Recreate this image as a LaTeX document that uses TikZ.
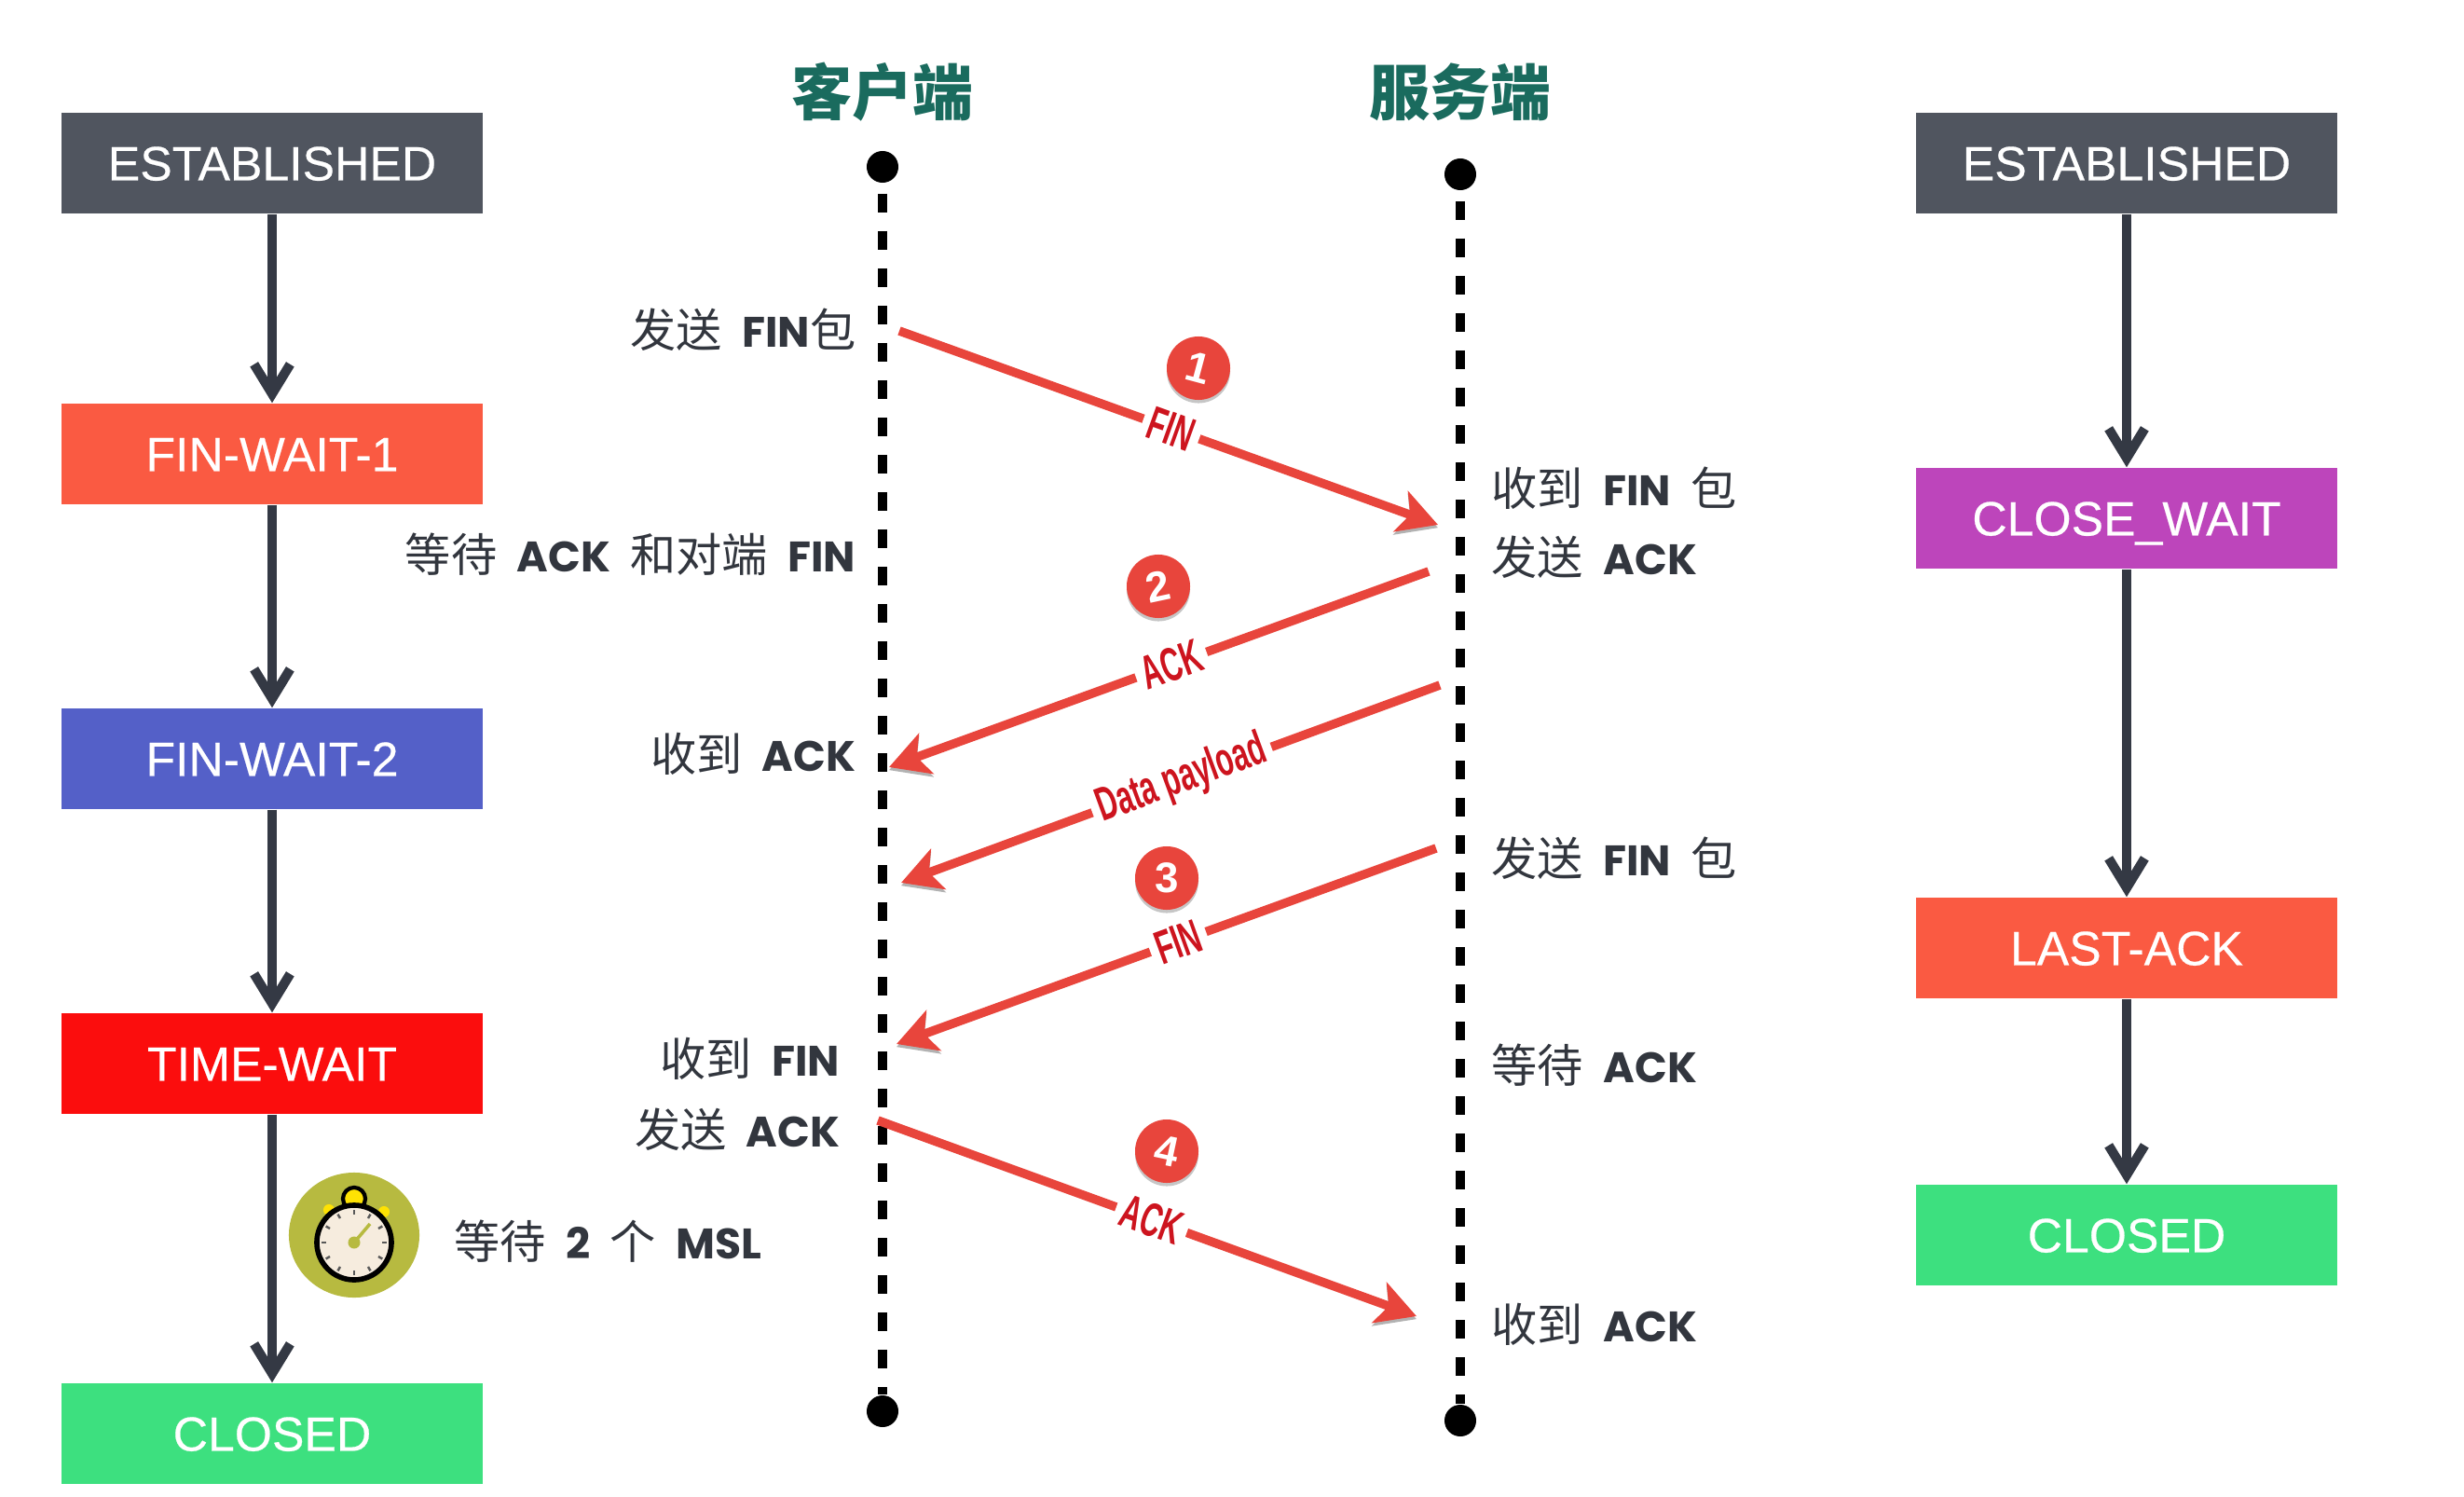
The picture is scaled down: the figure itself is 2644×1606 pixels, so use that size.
\documentclass[tikz,border=0pt]{standalone}
\usepackage{fontspec}
\setmainfont{Liberation Sans}
\newfontfamily\cjk{Noto Sans CJK SC}
\newfontfamily\rnd[WordSpace=2.2]{Poppins}
\newfontfamily\stf[FakeBold=0.4]{Liberation Sans}
\newfontfamily\narrowf[FakeStretch=0.6]{Liberation Sans}
\usetikzlibrary{positioning,arrows.meta,shadows}
\definecolor{slate}{RGB}{80,85,95}
\definecolor{ink}{RGB}{52,57,68}
\definecolor{txtc}{RGB}{50,54,62}
\definecolor{teal}{RGB}{26,107,94}
\definecolor{orng}{RGB}{250,90,66}
\definecolor{indg}{RGB}{84,96,200}
\definecolor{pure}{RGB}{251,13,13}
\definecolor{mint}{RGB}{61,224,127}
\definecolor{plum}{RGB}{189,69,187}
\definecolor{pkt}{RGB}{232,69,60}
\definecolor{pktd}{RGB}{205,20,30}
\definecolor{olive}{RGB}{183,186,64}
\definecolor{face}{RGB}{246,236,222}
\newcommand{\zh}[1]{{\cjk\mdseries\fontsize{14}{16}\selectfont #1}}
\tikzset{
  st/.style={rectangle, minimum width=4.51cm, minimum height=1.08cm, inner sep=0pt, text height=10.5pt, text depth=0pt, text=white, font=\stf\fontsize{14.7}{16}\selectfont},
  Tr/.style={-{Straight Barb[length=9pt,width=11pt,line width=2.9pt]}, ink, line width=2.9pt},
  life/.style={line width=3.1pt, dash pattern=on .2cm off .2cm, dash phase=.29cm},
  dot/.style={circle, fill=black, inner sep=0pt, minimum size=.34cm},
  Pk/.style={-{Stealth[length=12pt,width=13pt,inset=3pt]}, pkt, line width=2.7pt, preaction={draw=black, opacity=.3, transform canvas={yshift=-.9pt}}},
  pl/.style={sloped, fill=white, inner sep=2pt, text=pktd, font=\narrowf\bfseries\fontsize{14.5}{16}\selectfont},
  num/.style={circle, fill=pkt, inner sep=0pt, minimum size=.68cm, text=white, drop shadow={shadow xshift=0pt, shadow yshift=-1pt, opacity=.45}, font=\bfseries\fontsize{13}{15}\selectfont},
  hd/.style={text=teal, font=\cjk\bfseries\fontsize{18.5}{20}\selectfont},
  lbl/.style={inner sep=0pt, text=txtc, font=\rnd\bfseries\fontsize{13}{15}\selectfont}
}
\begin{document}
\begin{tikzpicture}[x=0.01cm, y=-0.01cm]
  \useasboundingbox (0,0) rectangle (2644,1606);
  % client states
  \node[st, fill=slate] (ce) at (292,175) {ESTABLISHED};
  \node[st, fill=orng] (cw1) at (292,487) {FIN-WAIT-1};
  \node[st, fill=indg] (cw2) at (292,814) {FIN-WAIT-2};
  \node[st, fill=pure] (ct) at (292,1141) {TIME-WAIT};
  \node[st, fill=mint] (cc) at (292,1538) {CLOSED};
  \draw[Tr] (ce)--(cw1);
  \draw[Tr] (cw1)--(cw2);
  \draw[Tr] (cw2)--(ct);
  \draw[Tr] (ct)--(cc);
  % server states
  \node[st, fill=slate] (se) at (2282,175) {ESTABLISHED};
  \node[st, fill=plum] (sw) at (2282,556) {CLOSE\_WAIT};
  \node[st, fill=orng] (sl) at (2282,1017) {LAST-ACK};
  \node[st, fill=mint] (sc) at (2282,1325) {CLOSED};
  \draw[Tr] (se)--(sw);
  \draw[Tr] (sw)--(sl);
  \draw[Tr] (sl)--(sc);
  % lifelines
  \node[hd] (hc) at (947,99) {客户端};
  \node[hd] (hs) at (1567,99) {服务端};
  \node[dot] (ctop) at (947,179) {};
  \node[dot] (cbot) at (947,1514) {};
  \node[dot] (stop) at (1567,187) {};
  \node[dot] (sbot) at (1567,1524) {};
  \draw[life] (ctop)--(cbot);
  \draw[life] (stop)--(sbot);
  % packets
  \coordinate (a1) at (965,355);   \coordinate (b1) at (1543,563);
  \coordinate (a2) at (1533,613);  \coordinate (b2) at (954,823);
  \coordinate (a3) at (1545,735);  \coordinate (b3) at (967,947);
  \coordinate (a4) at (1541,910);  \coordinate (b4) at (962,1120);
  \coordinate (a5) at (942,1202);  \coordinate (b5) at (1520,1412);
  \draw[Pk] (a1)--(b1) node[pl,pos=.505]{FIN};
  \draw[Pk] (a2)--(b2) node[pl,pos=.477]{ACK};
  \draw[Pk] (a3)--(b3) node[pl,pos=.479]{Data payload};
  \draw[Pk] (a4)--(b4) node[pl,pos=.478]{FIN};
  \draw[Pk] (a5)--(b5) node[pl,pos=.508]{ACK};
  \node[num] (n1) at (1286,395) {\rotatebox{-15}{1}};
  \node[num] (n2) at (1243,629) {\rotatebox{12}{2}};
  \node[num] (n3) at (1252,942) {3};
  \node[num] (n4) at (1252,1235) {\rotatebox{-12}{4}};
  % client notes
  \node[lbl, anchor=east] (t1) at (919,354) {\zh{发送} FIN\zh{包}};
  \node[lbl, anchor=east] (t2) at (919,595) {\zh{等待} ACK \zh{和对端} FIN};
  \node[lbl, anchor=east] (t3) at (919,809) {\zh{收到} ACK};
  \node[lbl, anchor=east] (t4) at (902,1136) {\zh{收到} FIN};
  \node[lbl, anchor=east] (t5) at (902,1212) {\zh{发送} ACK};
  \node[lbl, anchor=west] (t6) at (487,1332) {\zh{等待} 2 \zh{个} MSL};
  % server notes
  \node[lbl, anchor=west] (r1) at (1600,524) {\zh{收到} FIN \zh{包}};
  \node[lbl, anchor=west] (r2) at (1600,598) {\zh{发送} ACK};
  \node[lbl, anchor=west] (r3) at (1600,921) {\zh{发送} FIN \zh{包}};
  \node[lbl, anchor=west] (r4) at (1600,1143) {\zh{等待} ACK};
  \node[lbl, anchor=west] (r5) at (1600,1421) {\zh{收到} ACK};
  % stopwatch
  \begin{scope}[shift={(380,1325)}]
    \fill[olive] (0,0) ellipse (.70cm and .67cm);
    \fill[yellow!85!orange] (-.27cm,.27cm) circle (.06cm) (.32cm,.25cm) circle (.06cm);
    \filldraw[fill=yellow!85!orange, draw=black, line width=1.2pt] (0,.39cm) circle (.12cm);
    \filldraw[fill=face, draw=black, line width=1.6pt] (0,-.08cm) circle (.40cm);
    \foreach \a in {0,30,...,330}
      \draw[black!65, line width=.7pt] (0,-.08cm) ++(\a:.30cm) -- ++(\a:.05cm);
    \draw[olive, line width=1pt] (0,-.08cm) -- (.17cm,.12cm);
    \fill[olive] (0,-.08cm) circle (.065cm);
  \end{scope}
\end{tikzpicture}
\end{document}
